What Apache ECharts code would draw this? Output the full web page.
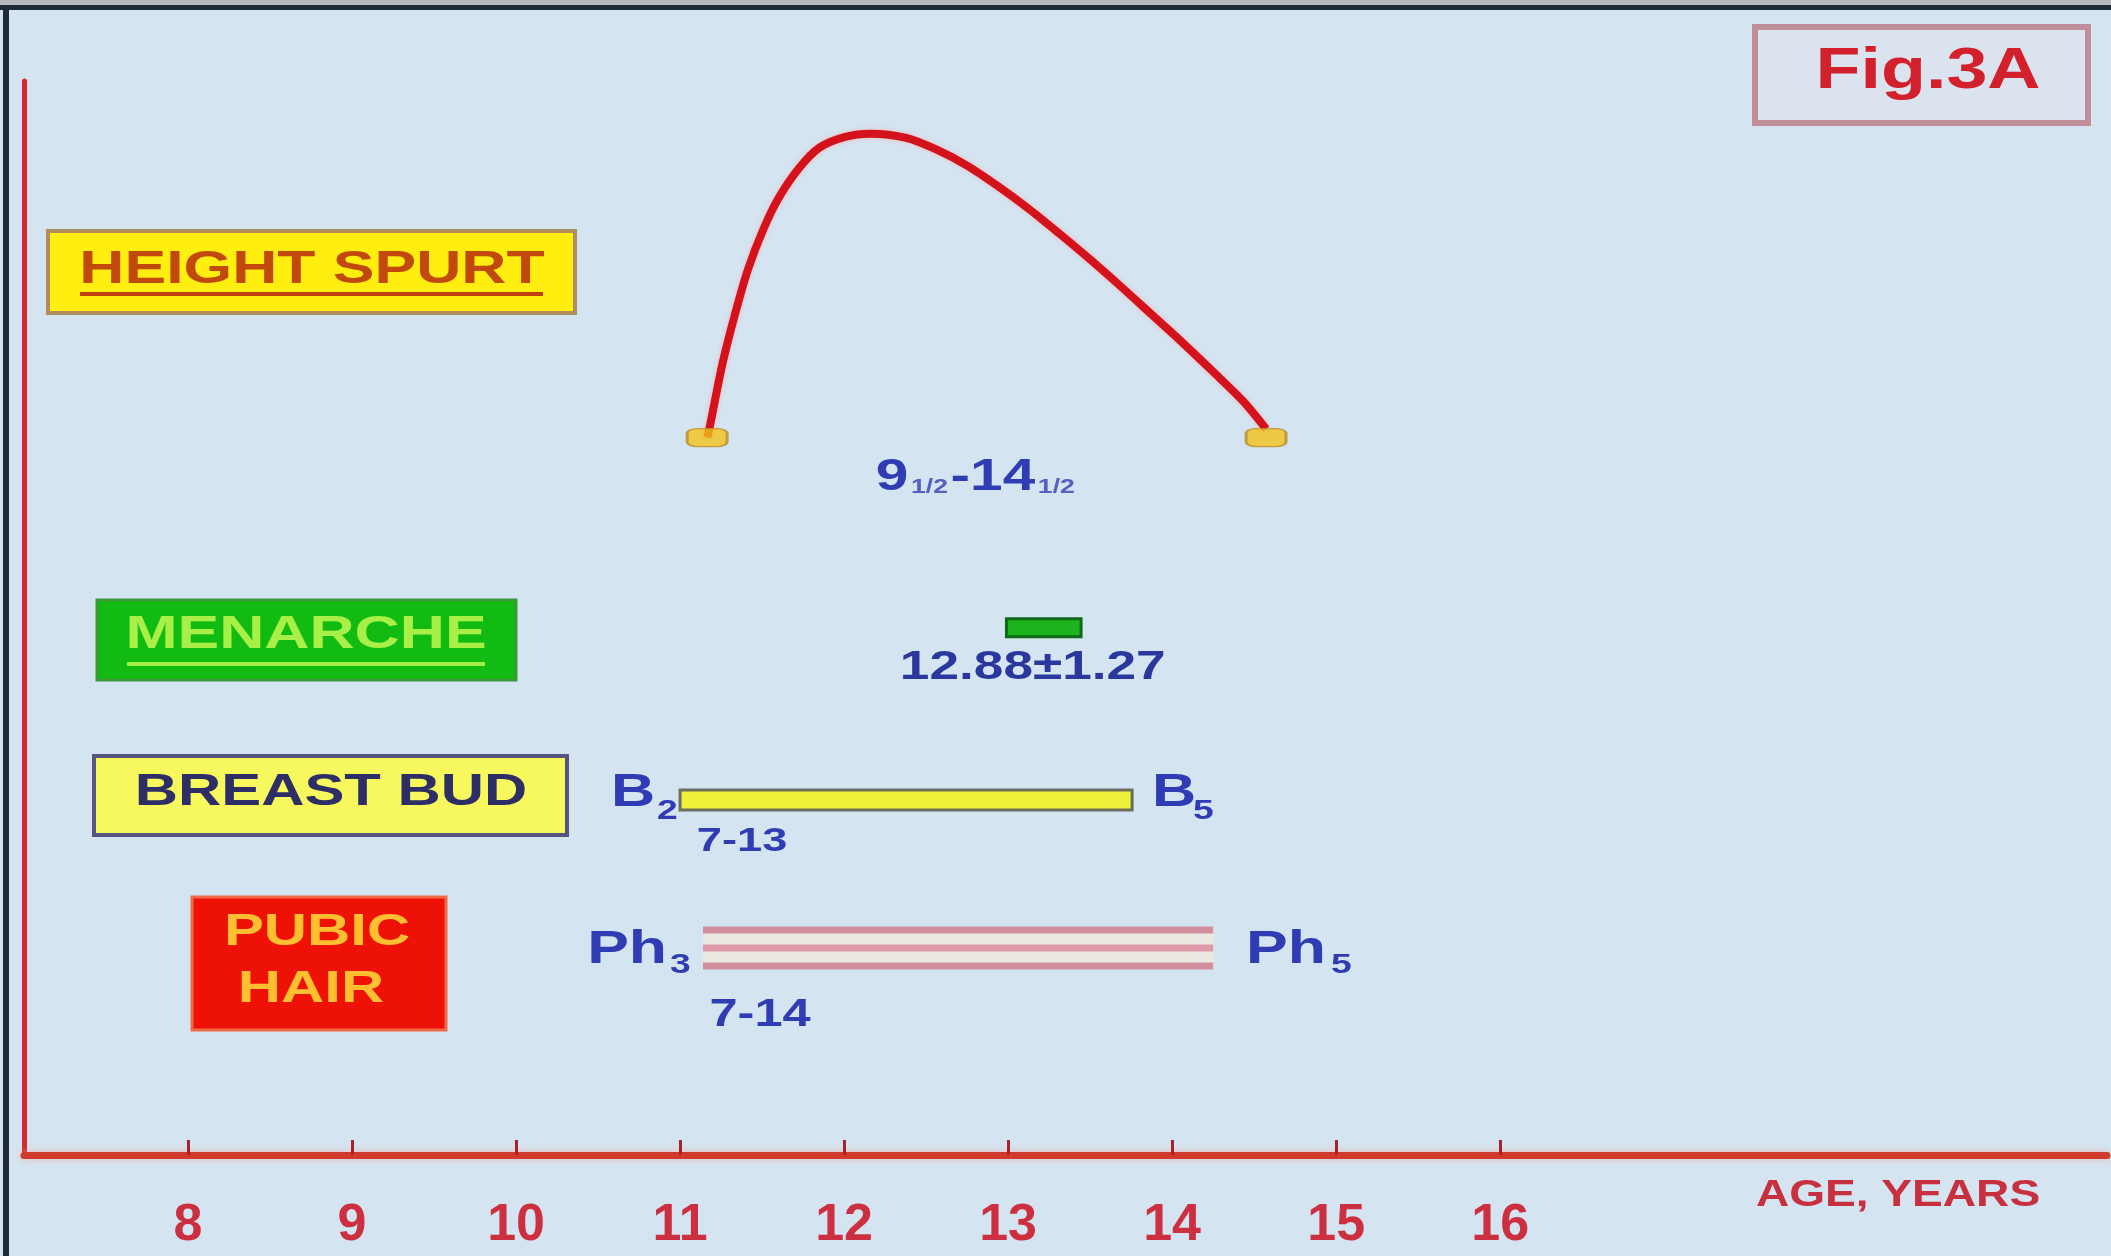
<!DOCTYPE html>
<html><head><meta charset="utf-8">
<script src="https://cdn.jsdelivr.net/npm/echarts@6/dist/echarts.min.js"></script>
<style>html,body{margin:0;padding:0;background:#d4e4f0}#c{width:2111px;height:1256px}</style>
</head><body><div id="c"></div>
<script>
// ---- data ----
const ageTicks = [8, 9, 10, 11, 12, 13, 14, 15, 16];
const axisTitle = 'AGE, YEARS';
const figTitle = 'Fig.3A';
const rowLabels = ['HEIGHT SPURT', 'MENARCHE', 'BREAST BUD', 'PUBIC', 'HAIR'];
const heightSpurtCurve = [[11.165,66.8],[11.181,67.8],[11.259,73.7],[11.337,78.4],[11.415,82.5],[11.508,86.2],[11.601,89.1],[11.726,91.9],[11.850,93.8],[12.006,94.8],[12.161,95.1],[12.379,94.7],[12.565,93.6],[12.752,92.1],[12.939,90.2],[13.126,88.1],[13.312,85.8],[13.499,83.4],[13.685,80.9],[13.872,78.3],[14.059,75.7],[14.245,73.0],[14.432,70.2],[14.573,67.6]];
const heightSpurtEnds = [[11.165, 66.8], [14.573, 66.8]];
const heightSpurtText = ['9', '1/2', '-14', '1/2'];
const menarcheBar = [[12.99, 13.445, 49.1]];
const menarcheText = '12.88±1.27';
const breastBudBar = [[11.0, 13.756, 33.05]];
const breastBudStages = ['2', '5'];
const breastBudText = '7-13';
const pubicHairBar = [[11.14, 14.25, 19.27]];
const pubicHairStages = ['3', '5'];
const pubicHairText = '7-14';

// ---- style helpers ----
const F = '"Liberation Sans", Arial, sans-serif';
const SX = 1.33;
const BLUE = '#2f3cb4';
function txt(x, y, text, size, color, align, extra) {
  return Object.assign({type: 'text', x: x, y: y, scaleX: SX,
    style: {text: text, fontSize: size, fontWeight: 'bold', fontFamily: F, fill: color,
      align: align, textAlign: align, verticalAlign: 'middle', textVerticalAlign: 'middle'}}, extra || {});
}

const chart = echarts.init(document.getElementById('c'), null, {renderer: 'canvas'});
const spurtMid = [[(heightSpurtEnds[0][0] + heightSpurtEnds[1][0]) / 2, heightSpurtEnds[0][1]]];

chart.setOption({
  backgroundColor: '#d4e4f0',
  animation: false,
  grid: {left: 24, right: 4, top: 81, bottom: 101, containLabel: false},
  xAxis: {
    type: 'value', min: 7, max: 19.7,
    splitLine: {show: false},
    axisLine: {show: true, onZero: false, lineStyle: {color: '#cf3a2c', width: 7, shadowColor: 'rgba(255,160,150,0.7)', shadowBlur: 6}},
    axisTick: {show: true, inside: true, length: 15, customValues: ageTicks, lineStyle: {color: '#a8222a', width: 3}},
    axisLabel: {show: true, customValues: ageTicks, margin: 45, fontSize: 52, fontWeight: 'bold', fontFamily: F, color: '#cc3040'}
  },
  yAxis: {
    type: 'value', min: 0, max: 100,
    splitLine: {show: false},
    axisLine: {show: true, onZero: false, lineStyle: {color: '#d42a2a', width: 5}},
    axisTick: {show: false}, axisLabel: {show: false}
  },
  series: [
    {
      type: 'line', data: heightSpurtCurve, smooth: 0.3, showSymbol: false, z: 3,
      lineStyle: {color: '#d3121c', width: 8, shadowColor: 'rgba(255,170,170,0.8)', shadowBlur: 4}
    },
    {
      type: 'scatter', data: heightSpurtEnds, symbol: 'roundRect', symbolSize: [40, 18], z: 5,
      itemStyle: {color: '#f3c21c', borderColor: '#b88d28', borderWidth: 2}
    },
    {
      type: 'custom', data: spurtMid, z: 6,
      renderItem: function (params, api) {
        const p = api.coord([api.value(0), api.value(1)]);
        return {type: 'text', x: p[0] - 10, y: p[1] + 40, scaleX: SX,
          style: {text: '{a|' + heightSpurtText[0] + '}{b|' + heightSpurtText[1] + '}{a|' + heightSpurtText[2] + '}{b|' + heightSpurtText[3] + '}',
            align: 'center', textAlign: 'center', verticalAlign: 'middle', textVerticalAlign: 'middle',
            rich: {a: {fontSize: 44, fontWeight: 'bold', fontFamily: F, fill: BLUE, verticalAlign: 'bottom'},
                   b: {fontSize: 20, fontWeight: 'bold', fontFamily: F, fill: '#5560c0', verticalAlign: 'bottom', padding: [0, 2, 2, 2]}}}};
      }
    },
    {
      type: 'custom', data: menarcheBar, z: 6, encode: {x: [0, 1], y: 2},
      renderItem: function (params, api) {
        const a = api.coord([api.value(0), api.value(2)]);
        const b = api.coord([api.value(1), api.value(2)]);
        return {type: 'group', children: [
          {type: 'rect', shape: {x: a[0], y: a[1] - 9, width: b[0] - a[0], height: 18}, style: {fill: '#1db31d', stroke: '#0d6a16', lineWidth: 3}},
          txt((a[0] + b[0]) / 2 - 11, a[1] + 40, menarcheText, 40, '#2a389e', 'center')
        ]};
      }
    },
    {
      type: 'custom', data: breastBudBar, z: 6, encode: {x: [0, 1], y: 2},
      renderItem: function (params, api) {
        const a = api.coord([api.value(0), api.value(2)]);
        const b = api.coord([api.value(1), api.value(2)]);
        return {type: 'group', children: [
          {type: 'rect', shape: {x: a[0], y: a[1] - 10, width: b[0] - a[0], height: 20}, style: {fill: '#eef23a', stroke: '#6e6c5c', lineWidth: 3}},
          txt(a[0] - 25, a[1] - 7, 'B', 46, BLUE, 'right'),
          txt(a[0] - 23, a[1] + 11, breastBudStages[0], 28, BLUE, 'left'),
          txt(b[0] + 20, a[1] - 7, 'B', 46, BLUE, 'left'),
          txt(b[0] + 61, a[1] + 11, breastBudStages[1], 28, BLUE, 'left'),
          txt(a[0] + 62, a[1] + 42, breastBudText, 34, BLUE, 'center')
        ]};
      }
    },
    {
      type: 'custom', data: pubicHairBar, z: 6, encode: {x: [0, 1], y: 2},
      renderItem: function (params, api) {
        const a = api.coord([api.value(0), api.value(2)]);
        const b = api.coord([api.value(1), api.value(2)]);
        const ch = [{type: 'rect', shape: {x: a[0], y: a[1] - 21, width: b[0] - a[0], height: 42}, style: {fill: '#ebe8e2'}}];
        [-18, 0, 18].forEach(function (d) {
          ch.push({type: 'line', shape: {x1: a[0], y1: a[1] + d, x2: b[0], y2: a[1] + d}, style: {stroke: d === 0 ? '#e099a8' : '#d48f9f', lineWidth: 7}});
        });
        ch.push(txt(a[0] - 36, a[1] + 2, 'Ph', 47, BLUE, 'right'));
        ch.push(txt(a[0] - 33, a[1] + 17, pubicHairStages[0], 28, BLUE, 'left'));
        ch.push(txt(b[0] + 33, a[1] + 2, 'Ph', 47, BLUE, 'left'));
        ch.push(txt(b[0] + 118, a[1] + 17, pubicHairStages[1], 28, BLUE, 'left'));
        ch.push(txt(a[0] + 57, a[1] + 67, pubicHairText, 38, BLUE, 'center'));
        return {type: 'group', children: ch};
      }
    }
  ],
  graphic: [
    // frame
    {type: 'rect', shape: {x: 0, y: 0, width: 2111, height: 5}, style: {fill: '#b6b8bc'}, z: 1},
    {type: 'rect', shape: {x: 0, y: 5, width: 2111, height: 5}, style: {fill: '#202a34'}, z: 1},
    {type: 'rect', shape: {x: 3, y: 5, width: 6, height: 1251}, style: {fill: '#202a34'}, z: 1},
    // Fig box
    {type: 'rect', shape: {x: 1755, y: 27, width: 333, height: 96}, style: {fill: 'rgba(230,225,235,0.35)', stroke: '#bf8e98', lineWidth: 6}, z: 1},
    txt(1928, 72, figTitle, 58, '#d2202c', 'center', {scaleX: 1.27, z: 2}),
    // axis title
    txt(1898, 1196, axisTitle, 36, '#c83040', 'center', {scaleX: 1.28, z: 2}),
    // HEIGHT SPURT
    {type: 'rect', shape: {x: 48, y: 231, width: 527, height: 82}, style: {fill: '#ffee10', stroke: '#b08e5c', lineWidth: 4}, z: 1},
    txt(312, 270, rowLabels[0], 47, '#c2490c', 'center', {z: 2}),
    {type: 'line', shape: {x1: 80, y1: 294, x2: 543, y2: 294}, style: {stroke: '#c0400a', lineWidth: 4}, z: 2},
    // MENARCHE
    {type: 'rect', shape: {x: 97, y: 600, width: 419, height: 80}, style: {fill: '#12bb12', stroke: '#3a9a3a', lineWidth: 3}, z: 1},
    txt(306, 635, rowLabels[1], 47, '#a8f048', 'center', {z: 2}),
    {type: 'line', shape: {x1: 127, y1: 664, x2: 485, y2: 664}, style: {stroke: '#a2ec44', lineWidth: 4}, z: 2},
    // BREAST BUD
    {type: 'rect', shape: {x: 94, y: 756, width: 473, height: 79}, style: {fill: '#f6f85e', stroke: '#555580', lineWidth: 4}, z: 1},
    txt(331, 793, rowLabels[2], 45, '#2e2e66', 'center', {z: 2}),
    // PUBIC HAIR
    {type: 'rect', shape: {x: 192, y: 897, width: 254, height: 133}, style: {fill: '#ee1206', stroke: '#f06a4a', lineWidth: 3}, z: 1},
    txt(317, 933, rowLabels[3], 45, '#ffbf30', 'center', {z: 2}),
    txt(311, 990, rowLabels[4], 45, '#ffbf30', 'center', {z: 2})
  ]
});
</script>
</body></html>
